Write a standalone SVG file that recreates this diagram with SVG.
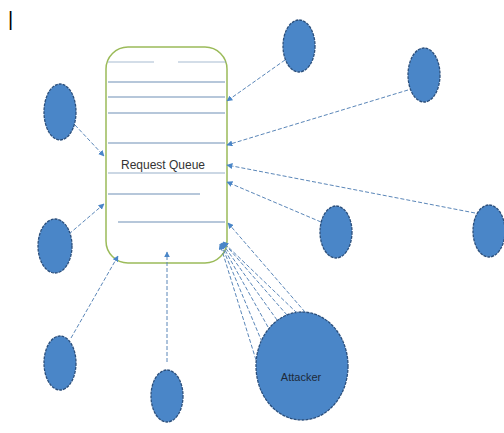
<svg xmlns="http://www.w3.org/2000/svg" width="504" height="433" viewBox="0 0 504 433">
<style>
.node{fill:#4a86c8;stroke:#2b4f7c;stroke-width:1.3;stroke-dasharray:3 1}
.c{fill:none;stroke:#5a86b8;stroke-width:1;stroke-dasharray:4 2;marker-end:url(#ah)}
.q{stroke:#6f8fb5;stroke-width:1.2}
.lbl{font-family:"Liberation Sans Narrow","Liberation Sans",Arial,sans-serif}
</style>
<defs>
<marker id="ah" viewBox="0 0 10 10" refX="9" refY="5" markerWidth="6" markerHeight="6" orient="auto" markerUnits="userSpaceOnUse">
<path d="M0,0 L10,5 L0,10 z" fill="#4a86c8"/>
</marker>
</defs>
<rect width="504" height="433" fill="#fff"/>
<text x="8" y="26" class="lbl" font-size="20" style="fill:#000">|</text>
<g id="queue">
<rect x="106" y="47" width="121" height="216" rx="22" ry="22" fill="#fff" stroke="#9bbb59" stroke-width="1.5"/>
<line class="q" x1="108" y1="62" x2="154" y2="62" opacity="0.6"/>
<line class="q" x1="178" y1="62" x2="226" y2="62" opacity="0.6"/>
<line class="q" x1="108" y1="82" x2="225" y2="82"/>
<line class="q" x1="108" y1="97" x2="225" y2="97"/>
<line class="q" x1="108" y1="113" x2="225" y2="113"/>
<line class="q" x1="108" y1="143" x2="225" y2="143"/>
<line class="q" x1="108" y1="173" x2="225" y2="173" opacity="0.7"/>
<line class="q" x1="108" y1="194" x2="200" y2="194"/>
<line class="q" x1="118" y1="222" x2="225" y2="222"/>
<text x="163" y="169" class="lbl" font-size="12" text-anchor="middle" style="fill:#333">Request Queue</text>
</g>
<g id="n-top"><ellipse class="node" cx="299" cy="46" rx="16" ry="26"/></g>
<g id="n-topright"><ellipse class="node" cx="424" cy="75" rx="16" ry="27"/></g>
<g id="n-midright"><ellipse class="node" cx="336" cy="232" rx="16" ry="26"/></g>
<g id="n-farright"><ellipse class="node" cx="489" cy="231" rx="16" ry="26"/></g>
<g id="n-lefttop"><ellipse class="node" cx="60" cy="112" rx="16" ry="28"/></g>
<g id="n-leftmid"><ellipse class="node" cx="55" cy="246" rx="17" ry="27"/></g>
<g id="n-leftbot"><ellipse class="node" cx="60" cy="363" rx="16" ry="27"/></g>
<g id="n-bottom"><ellipse class="node" cx="167" cy="396" rx="16" ry="26"/></g>
<g id="attacker">
<ellipse class="node" cx="302" cy="366" rx="46" ry="54"/>
<text x="301" y="381" class="lbl" font-size="11" text-anchor="middle" style="fill:#1d2a3a">Attacker</text>
</g>
<g id="connectors">
<line class="c" x1="285" y1="60" x2="227" y2="101"/>
<line class="c" x1="408" y1="90" x2="227" y2="145"/>
<line class="c" x1="475" y1="213" x2="227" y2="165"/>
<line class="c" x1="321" y1="222" x2="227" y2="182"/>
<line class="c" x1="75" y1="125" x2="104" y2="156"/>
<line class="c" x1="69" y1="234" x2="104" y2="204"/>
<line class="c" x1="71" y1="338" x2="118" y2="256"/>
<line class="c" x1="167" y1="362" x2="167" y2="252"/>
<line class="c" x1="305" y1="312" x2="228" y2="223"/>
<line class="c" x1="297" y1="313" x2="223" y2="242"/>
<line class="c" x1="287" y1="315" x2="223" y2="242"/>
<line class="c" x1="277" y1="320" x2="222" y2="243"/>
<line class="c" x1="268" y1="327" x2="221" y2="243"/>
<line class="c" x1="262" y1="342" x2="221" y2="244"/>
<line class="c" x1="256" y1="360" x2="220" y2="244"/>
</g>
</svg>
